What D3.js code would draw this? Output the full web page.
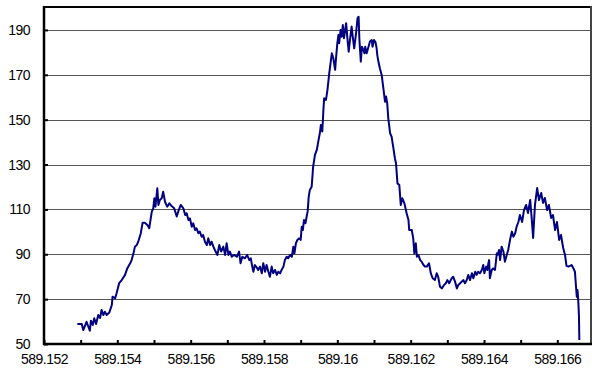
<!DOCTYPE html>
<html>
<head>
<meta charset="utf-8">
<script src="https://cdn.jsdelivr.net/npm/d3@7"></script>
<style>
  body { margin: 0; background: #fff; }
  svg { display: block; }
  .tick text { font-family: "Liberation Sans", Arial, sans-serif; font-size: 14px; letter-spacing: -0.5px; fill: #000; }
</style>
</head>
<body>
<main></main>
<script>
// wavelength values (x)
const xs = [
  589.15291, 589.15303, 589.15307, 589.15312, 589.15316, 589.15321, 589.15325, 589.15328, 589.15333, 589.15337,
  589.15342, 589.15348, 589.15353, 589.15357, 589.15362, 589.15366, 589.15371, 589.15378, 589.15385, 589.15387,
  589.15394, 589.15398, 589.15405, 589.15412, 589.15421, 589.15427, 589.15435, 589.15439, 589.15444, 589.15448,
  589.15453, 589.15457, 589.15464, 589.15469, 589.15475, 589.15482, 589.15487, 589.15494, 589.15498, 589.15501,
  589.15504, 589.15509, 589.15512, 589.15516, 589.15521, 589.15525, 589.15530, 589.15536, 589.15542, 589.15548,
  589.15555, 589.15562, 589.15566, 589.15573, 589.15580, 589.15585, 589.15589, 589.15594, 589.15598, 589.15603,
  589.15607, 589.15612, 589.15616, 589.15621, 589.15625, 589.15630, 589.15634, 589.15639, 589.15644, 589.15648,
  589.15653, 589.15657, 589.15662, 589.15666, 589.15673, 589.15678, 589.15683, 589.15689, 589.15694, 589.15698,
  589.15703, 589.15707, 589.15712, 589.15718, 589.15726, 589.15732, 589.15736, 589.15741, 589.15748, 589.15754,
  589.15760, 589.15764, 589.15768, 589.15771, 589.15775, 589.15780, 589.15784, 589.15789, 589.15794, 589.15798,
  589.15803, 589.15807, 589.15812, 589.15816, 589.15821, 589.15825, 589.15830, 589.15835, 589.15839, 589.15844,
  589.15848, 589.15853, 589.15857, 589.15862, 589.15866, 589.15871, 589.15876, 589.15880, 589.15883, 589.15887,
  589.15891, 589.15896, 589.15900, 589.15903, 589.15906, 589.15909, 589.15913, 589.15917, 589.15919, 589.15922,
  589.15925, 589.15930, 589.15934, 589.15939, 589.15944, 589.15948, 589.15953, 589.15955, 589.15959, 589.15962,
  589.15964, 589.15969, 589.15973, 589.15978, 589.15985, 589.15989, 589.15994, 589.15996, 589.16000, 589.16003,
  589.16005, 589.16009, 589.16012, 589.16015, 589.16018, 589.16024, 589.16027, 589.16031, 589.16035, 589.16039,
  589.16042, 589.16046, 589.16051, 589.16055, 589.16058, 589.16060, 589.16064, 589.16067, 589.16071, 589.16074,
  589.16076, 589.16080, 589.16085, 589.16089, 589.16094, 589.16096, 589.16100, 589.16104, 589.16107, 589.16109,
  589.16112, 589.16116, 589.16121, 589.16125, 589.16130, 589.16133, 589.16136, 589.16139, 589.16144, 589.16148,
  589.16153, 589.16157, 589.16160, 589.16164, 589.16169, 589.16173, 589.16177, 589.16183, 589.16189, 589.16194,
  589.16196, 589.16203, 589.16207, 589.16210, 589.16214, 589.16217, 589.16221, 589.16226, 589.16230, 589.16235,
  589.16239, 589.16244, 589.16250, 589.16255, 589.16260, 589.16266, 589.16271, 589.16275, 589.16280, 589.16285,
  589.16291, 589.16296, 589.16300, 589.16305, 589.16312, 589.16316, 589.16321, 589.16326, 589.16330, 589.16335,
  589.16339, 589.16344, 589.16348, 589.16353, 589.16357, 589.16362, 589.16367, 589.16371, 589.16376, 589.16380,
  589.16384, 589.16389, 589.16394, 589.16398, 589.16401, 589.16406, 589.16409, 589.16412, 589.16414, 589.16416,
  589.16421, 589.16425, 589.16430, 589.16435, 589.16437, 589.16441, 589.16444, 589.16448, 589.16453, 589.16457,
  589.16462, 589.16466, 589.16471, 589.16476, 589.16480, 589.16485, 589.16489, 589.16494, 589.16498, 589.16504,
  589.16509, 589.16515, 589.16520, 589.16526, 589.16530, 589.16534, 589.16539, 589.16545, 589.16550, 589.16556,
  589.16561, 589.16566, 589.16572, 589.16577, 589.16583, 589.16588, 589.16594, 589.16599, 589.16605, 589.16610,
  589.16616, 589.16621, 589.16625, 589.16630, 589.16639, 589.16644, 589.16648, 589.16651, 589.16653, 589.16655,
  589.16657, 589.16659, 589.16660
];

// intensity values (y)
const ys = [
  58.9, 58.9, 56.2, 58.2, 59.9, 57.7, 55.9, 60.4, 58.5, 61.5,
  58.9, 62.9, 61.6, 65.2, 62.9, 64.4, 62.9, 64.0, 67.4, 71.1,
  70.4, 72.6, 77.1, 78.5, 80.8, 83.7, 86.0, 87.4, 90.4, 93.4,
  94.1, 95.6, 99.4, 104.1, 104.1, 103.1, 101.6, 109.0, 110.5, 115.0,
  111.2, 119.4, 112.0, 114.2, 115.0, 117.9, 113.4, 111.2, 112.7, 111.5,
  110.5, 106.8, 109.0, 112.0, 110.5, 107.5, 108.3, 105.3, 106.0, 102.3,
  103.8, 100.8, 101.6, 99.4, 100.1, 97.8, 98.6, 95.6, 94.1, 97.1,
  94.1, 95.6, 93.4, 91.9, 89.7, 94.1, 91.2, 93.4, 89.7, 94.9,
  89.7, 91.2, 88.9, 89.7, 88.9, 91.2, 86.0, 88.9, 88.2, 89.7,
  87.4, 88.2, 84.5, 82.2, 85.2, 84.2, 83.0, 84.5, 81.5, 86.0,
  82.2, 85.2, 82.2, 80.0, 84.5, 81.5, 83.0, 80.8, 82.2, 81.5,
  83.0, 84.5, 87.4, 88.9, 88.2, 89.7, 88.9, 93.4, 90.4, 94.9,
  96.4, 97.1, 96.4, 102.3, 100.8, 105.3, 103.8, 107.5, 109.0, 115.7,
  118.7, 120.1, 129.0, 134.3, 136.5, 140.2, 144.7, 147.6, 144.7, 154.3,
  159.5, 158.8, 163.2, 170.7, 179.6, 177.4, 172.2, 176.6, 184.1, 187.8,
  184.1, 190.0, 187.0, 192.2, 186.3, 193.0, 187.0, 180.3, 186.3, 191.5,
  187.0, 181.8, 188.5, 195.2, 195.9, 186.3, 175.9, 182.5, 181.1, 179.6,
  182.5, 179.6, 182.5, 184.8, 185.5, 182.5, 185.5, 184.6, 182.0, 178.8,
  175.9, 172.9, 169.9, 164.7, 158.0, 160.3, 157.3, 150.6, 143.9, 142.4,
  137.2, 132.8, 130.6, 121.6, 120.9, 112.0, 115.0, 112.7, 108.3, 105.3,
  100.8, 100.8, 97.1, 90.4, 94.9, 88.9, 89.7, 87.4, 86.7, 85.2,
  84.5, 84.5, 86.0, 81.5, 79.3, 78.5, 81.5, 80.0, 75.5, 74.8,
  76.3, 77.1, 78.5, 77.1, 79.3, 80.0, 77.8, 74.8, 76.3, 77.1,
  77.8, 78.5, 77.1, 78.5, 80.8, 78.5, 81.5, 79.3, 82.2, 80.8,
  82.2, 81.5, 83.0, 85.2, 81.5, 84.5, 83.0, 86.0, 87.4, 79.3,
  83.0, 83.7, 83.0, 90.4, 89.7, 91.9, 87.4, 93.4, 91.2, 86.7,
  89.7, 91.9, 96.4, 100.1, 97.8, 99.4, 102.3, 104.5, 107.5, 104.4,
  109.7, 112.0, 108.4, 114.2, 106.2, 97.3, 112.0, 119.5, 114.2, 117.3,
  112.9, 115.1, 109.7, 112.0, 106.2, 107.5, 100.8, 104.4, 96.4, 98.6,
  92.8, 89.7, 84.8, 84.5, 85.2, 83.7, 82.2, 75.5, 71.1, 74.1,
  69.6, 62.2, 51.8
];

const yTicks = [50, 70, 90, 110, 130, 150, 170, 190];
const xTicks = [589.152, 589.153, 589.154, 589.155, 589.156, 589.157, 589.158, 589.159,
                589.16, 589.161, 589.162, 589.163, 589.164, 589.165, 589.166];
const xLabels = [589.152, 589.154, 589.156, 589.158, 589.16, 589.162, 589.164, 589.166];

var width = 592;
var height = 374;

var svg = d3.select("main")
  .append("svg")
  .attr("width", width)
  .attr("height", height);

const xScale = d3.scaleLinear()
  .domain([589.152, 589.167])
  .range([44, 594]);

const yScale = d3.scaleLinear()
  .domain([50, 200])
  .range([344, 7.5]);

//gridlines
svg.append("g")
  .selectAll("line")
  .data(yTicks.slice(1))
  .enter()
  .append("line")
  .attr("x1", 44)
  .attr("x2", 591)
  .attr("y1", d => Math.round(yScale(d)) + 0.5)
  .attr("y2", d => Math.round(yScale(d)) + 0.5)
  .style("stroke", "#555")
  .style("stroke-width", 1);

//y axis
var y_axis = d3.axisLeft(yScale)
  .tickValues(yTicks)
  .tickSize(-4)
  .tickPadding(14)
  .tickFormat(d3.format("d"));

svg.append("g")
  .attr("id", "y-axis")
  .attr("transform", "translate(44,0)")
  .call(y_axis)
  .call(g => g.select(".domain").remove())
  .call(g => g.selectAll(".tick line").style("stroke", "#000").style("stroke-width", 2));

//x axis, minor ticks every 0.001 and labels every 0.002
var x_axis = d3.axisBottom(xScale)
  .tickValues(xTicks)
  .tickSize(-4)
  .tickPadding(10)
  .tickFormat(d => xLabels.some(v => Math.abs(v - d) < 1e-7) ? d3.format("")(+d.toFixed(3)) : "");

svg.append("g")
  .attr("id", "x-axis")
  .attr("transform", "translate(0,344)")
  .call(x_axis)
  .call(g => g.select(".domain").remove())
  .call(g => g.selectAll(".tick line").style("stroke", "#000").style("stroke-width", 2));

//frame
svg.append("line").attr("x1", 43).attr("x2", 592).attr("y1", 7).attr("y2", 7)
  .style("stroke", "#000").style("stroke-width", 2);
svg.append("line").attr("x1", 591).attr("x2", 591).attr("y1", 6).attr("y2", 345)
  .style("stroke", "#444").style("stroke-width", 2);
svg.append("line").attr("x1", 44).attr("x2", 44).attr("y1", 6).attr("y2", 345)
  .style("stroke", "#000").style("stroke-width", 2.5);
svg.append("line").attr("x1", 43).attr("x2", 592).attr("y1", 344).attr("y2", 344)
  .style("stroke", "#000").style("stroke-width", 2.5);

//spectrum line
const points = xs.map((x, i) => [x, ys[i]]);

var line = d3.line()
  .x(d => xScale(d[0]))
  .y(d => yScale(d[1]));

svg.append("path")
  .datum(points)
  .attr("d", line)
  .style("fill", "none")
  .style("stroke", "#000080")
  .style("stroke-width", 2)
  .style("stroke-linejoin", "round");
</script>
</body>
</html>
